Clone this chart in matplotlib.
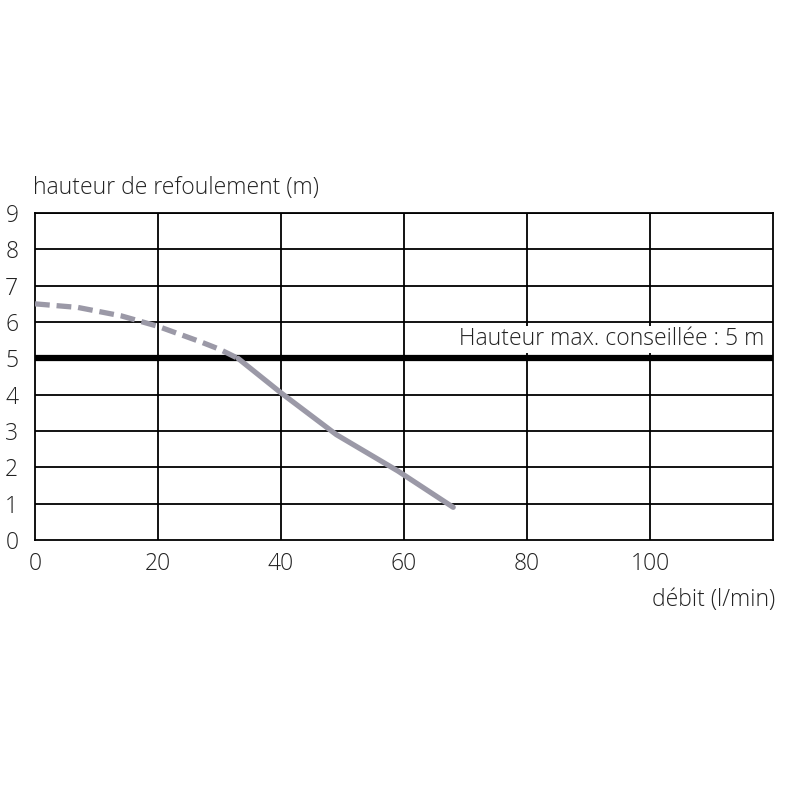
import matplotlib
matplotlib.use("Agg")
import matplotlib.pyplot as plt

# Data
dashed_x = [0, 7, 14, 20, 27, 30, 33]
dashed_y = [6.5, 6.4, 6.17, 5.88, 5.45, 5.25, 5.0]
solid_x = [33, 40, 49, 59, 68]
solid_y = [5.0, 4.05, 2.9, 1.9, 0.9]
max_height = 5
x_ticks = [0, 20, 40, 60, 80, 100]
y_ticks = list(range(0, 10))

plt.rcParams['font.family'] = ['Open Sans', 'DejaVu Sans']
curve_color = '#9b99a7'
text_color = '#222222'
fs = 16.5

fig = plt.figure(figsize=(8, 8), dpi=100)
ax = fig.add_axes([35/800, 1 - 540/800, (773-35)/800, (540-213)/800])
ax.set_xlim(0, 120)
ax.set_ylim(0, 9)

for x in x_ticks[1:]:
    ax.axvline(x, color='black', lw=1.3, zorder=1)
for y in y_ticks[1:]:
    ax.axhline(y, color='black', lw=1.3, zorder=1)

ax.plot(dashed_x, dashed_y, color=curve_color, lw=3.8, ls=(0, (2.8, 1.3)),
        solid_capstyle='butt', zorder=3)
ax.plot(solid_x, solid_y, color=curve_color, lw=3.8, solid_capstyle='round', zorder=3)

ax.text(118.6, 5.52, 'Hauteur max. conseillée : 5 m', ha='right', va='center',
        fontsize=fs, fontweight='light', color=text_color, zorder=2,
        bbox=dict(facecolor='white', edgecolor='none', pad=1))
ax.axhline(max_height, color='black', lw=4.5, zorder=2.5)

for s in ax.spines.values():
    s.set_linewidth(1.3)
    s.set_color('black')

ax.set_xticks(x_ticks)
ax.set_yticks(y_ticks)
ax.tick_params(length=0, labelsize=fs, colors=text_color)
ax.tick_params(axis='x', pad=9)
ax.tick_params(axis='y', pad=12)
for lab in ax.get_xticklabels() + ax.get_yticklabels():
    lab.set_fontweight('light')

fig.text(33/800, 1 - 188/800, 'hauteur de refoulement (m)', ha='left', va='center',
         fontsize=fs, fontweight='light', color=text_color)
fig.text(775/800, 1 - 600/800, 'débit (l/min)', ha='right', va='center',
         fontsize=fs, fontweight='light', color=text_color)

fig.savefig('out.png', dpi=100, facecolor='white')
